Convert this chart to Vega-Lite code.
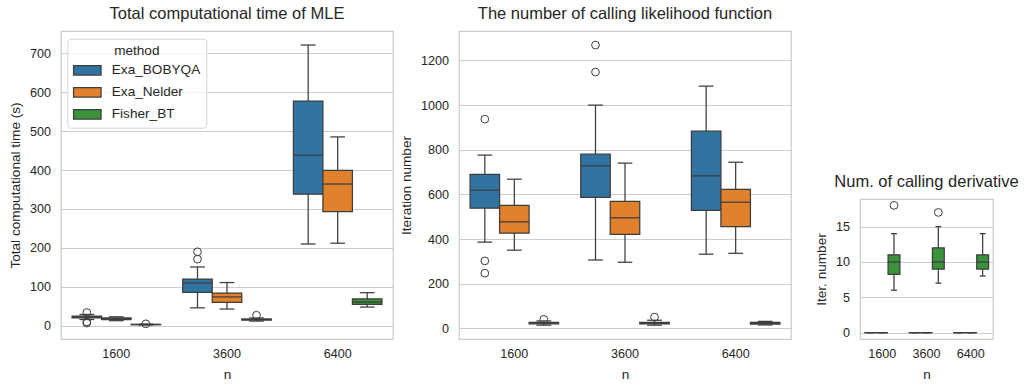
{
  "$schema": "https://vega.github.io/schema/vega-lite/v6.json",
  "background": "white",
  "padding": {"left": 7, "top": 4, "right": 5, "bottom": 5},
  "config": {
    "font": "Liberation Sans",
    "view": {"stroke": "#cccccc", "strokeWidth": 1.25},
    "axis": {"labelFont": "Liberation Sans", "titleFont": "Liberation Sans", "labelFontSize": 12.6, "titleFontSize": 13.6, "labelColor": "#262626", "titleColor": "#262626", "titleFontWeight": "normal", "domain": false, "ticks": false, "tickSize": 0, "gridColor": "#cccccc", "gridWidth": 1, "gridOpacity": 1},
    "axisX": {"grid": false, "labelAngle": 0, "labelPadding": 8, "titlePadding": 8},
    "axisY": {"grid": true, "labelPadding": 10.5, "titlePadding": 7.4, "format": "d"},
    "title": {"font": "Liberation Sans", "fontSize": 16.5, "fontWeight": "normal", "color": "#262626", "baseline": "alphabetic", "offset": 9, "frame": "group", "anchor": "middle"}
  },
  "datasets": {
    "time_box": [
      {"n": "1600", "method": "Exa_BOBYQA", "lo": 16, "q1": 20, "med": 23, "q3": 25, "hi": 29},
      {"n": "1600", "method": "Exa_Nelder", "lo": 13, "q1": 16, "med": 18, "q3": 20, "hi": 23},
      {"n": "1600", "method": "Fisher_BT", "lo": 2, "q1": 2.8, "med": 3.2, "q3": 3.6, "hi": 4.2},
      {"n": "3600", "method": "Exa_BOBYQA", "lo": 46, "q1": 86, "med": 110, "q3": 120, "hi": 151},
      {"n": "3600", "method": "Exa_Nelder", "lo": 43, "q1": 60, "med": 74, "q3": 84, "hi": 111},
      {"n": "3600", "method": "Fisher_BT", "lo": 12, "q1": 14.5, "med": 16, "q3": 17.5, "hi": 20},
      {"n": "6400", "method": "Exa_BOBYQA", "lo": 210, "q1": 338, "med": 438, "q3": 577, "hi": 721},
      {"n": "6400", "method": "Exa_Nelder", "lo": 212, "q1": 293, "med": 364, "q3": 399, "hi": 485},
      {"n": "6400", "method": "Fisher_BT", "lo": 48, "q1": 55, "med": 61, "q3": 69, "hi": 85}
    ],
    "time_out": [
      {"n": "1600", "method": "Exa_BOBYQA", "v": 34},
      {"n": "1600", "method": "Exa_BOBYQA", "v": 10},
      {"n": "1600", "method": "Exa_BOBYQA", "v": 7},
      {"n": "1600", "method": "Fisher_BT", "v": 5},
      {"n": "3600", "method": "Exa_BOBYQA", "v": 190},
      {"n": "3600", "method": "Exa_BOBYQA", "v": 171},
      {"n": "3600", "method": "Fisher_BT", "v": 27}
    ],
    "lik_box": [
      {"n": "1600", "method": "Exa_BOBYQA", "lo": 386, "q1": 538, "med": 619, "q3": 690, "hi": 776},
      {"n": "1600", "method": "Exa_Nelder", "lo": 350, "q1": 426, "med": 477, "q3": 551, "hi": 668},
      {"n": "1600", "method": "Fisher_BT", "lo": 14, "q1": 20, "med": 24, "q3": 27, "hi": 33},
      {"n": "3600", "method": "Exa_BOBYQA", "lo": 306, "q1": 587, "med": 728, "q3": 780, "hi": 1000},
      {"n": "3600", "method": "Exa_Nelder", "lo": 296, "q1": 421, "med": 495, "q3": 569, "hi": 740},
      {"n": "3600", "method": "Fisher_BT", "lo": 14, "q1": 20, "med": 23, "q3": 27, "hi": 36},
      {"n": "6400", "method": "Exa_BOBYQA", "lo": 332, "q1": 528, "med": 683, "q3": 883, "hi": 1085},
      {"n": "6400", "method": "Exa_Nelder", "lo": 336, "q1": 456, "med": 565, "q3": 622, "hi": 744},
      {"n": "6400", "method": "Fisher_BT", "lo": 15, "q1": 19, "med": 23, "q3": 27, "hi": 31}
    ],
    "lik_out": [
      {"n": "1600", "method": "Exa_BOBYQA", "v": 937},
      {"n": "1600", "method": "Exa_BOBYQA", "v": 302},
      {"n": "1600", "method": "Exa_BOBYQA", "v": 247},
      {"n": "1600", "method": "Fisher_BT", "v": 40},
      {"n": "3600", "method": "Exa_BOBYQA", "v": 1269},
      {"n": "3600", "method": "Exa_BOBYQA", "v": 1148},
      {"n": "3600", "method": "Fisher_BT", "v": 50}
    ],
    "der_box": [
      {"n": "1600", "method": "Exa_BOBYQA", "lo": 0, "q1": 0, "med": 0, "q3": 0, "hi": 0},
      {"n": "1600", "method": "Exa_Nelder", "lo": 0, "q1": 0, "med": 0, "q3": 0, "hi": 0},
      {"n": "1600", "method": "Fisher_BT", "lo": 6, "q1": 8.25, "med": 10, "q3": 11, "hi": 14},
      {"n": "3600", "method": "Exa_BOBYQA", "lo": 0, "q1": 0, "med": 0, "q3": 0, "hi": 0},
      {"n": "3600", "method": "Exa_Nelder", "lo": 0, "q1": 0, "med": 0, "q3": 0, "hi": 0},
      {"n": "3600", "method": "Fisher_BT", "lo": 7, "q1": 9, "med": 10, "q3": 12, "hi": 15},
      {"n": "6400", "method": "Exa_BOBYQA", "lo": 0, "q1": 0, "med": 0, "q3": 0, "hi": 0},
      {"n": "6400", "method": "Exa_Nelder", "lo": 0, "q1": 0, "med": 0, "q3": 0, "hi": 0},
      {"n": "6400", "method": "Fisher_BT", "lo": 8, "q1": 9, "med": 10, "q3": 11, "hi": 14}
    ],
    "der_out": [
      {"n": "1600", "method": "Fisher_BT", "v": 18},
      {"n": "3600", "method": "Fisher_BT", "v": 17}
    ]
  },
  "spacing": 21,
  "align": "none",
  "resolve": {"scale": {"x": "independent", "xOffset": "independent", "y": "independent", "fill": "independent"}, "legend": {"fill": "independent"}},
  "hconcat": [
    {
      "spacing": 4,
      "align": "none",
      "resolve": {"scale": {"x": "independent", "xOffset": "independent", "y": "independent", "fill": "independent"}, "legend": {"fill": "independent"}},
      "hconcat": [
        {
          "width": 332, "height": 308,
          "title": {"text": "Total computational time of MLE"},
          "encoding": {
            "x": {"field": "n", "type": "nominal", "title": "n", "scale": {"domain": ["1600", "3600", "6400"], "paddingInner": 0.2, "paddingOuter": 0.1}},
            "xOffset": {"field": "method", "type": "nominal", "scale": {"domain": ["Exa_BOBYQA", "Exa_Nelder", "Fisher_BT"], "paddingInner": 0, "paddingOuter": 0}}
          },
          "layer": [
            {"data": {"name": "time_box"}, "mark": {"type": "rule", "color": "#3d3d3d", "strokeWidth": 1.25},
             "encoding": {"y": {"field": "lo", "type": "quantitative", "title": "Total computational time (s)", "scale": {"domain": [-34, 757], "nice": false, "zero": false}, "axis": {"values": [0, 100, 200, 300, 400, 500, 600, 700]}}, "y2": {"field": "hi"}}},
            {"data": {"name": "time_box"}, "mark": {"type": "bar", "stroke": "#3d3d3d", "strokeWidth": 1.25, "opacity": 1},
             "encoding": {"y": {"field": "q1", "type": "quantitative", "title": "Total computational time (s)"}, "y2": {"field": "q3"},
               "fill": {"field": "method", "type": "nominal", "scale": {"domain": ["Exa_BOBYQA", "Exa_Nelder", "Fisher_BT"], "range": ["#3274a1", "#e1812c", "#3a923a"]},
                 "legend": {"title": "method", "orient": "none", "legendX": 6.3, "legendY": 7.7, "fillColor": "rgba(255,255,255,0.8)", "strokeColor": "#d5d5d5", "cornerRadius": 3, "padding": 5.5, "titleAnchor": "middle", "titleFont": "Liberation Sans", "titleFontSize": 13.6, "titleFontWeight": "normal", "titleColor": "#262626", "titlePadding": -2, "labelFont": "Liberation Sans", "labelFontSize": 13.6, "labelColor": "#262626", "labelOffset": 10, "rowPadding": -7.8, "symbolType": "M-1,-0.345H1V0.345H-1Z", "symbolSize": 756, "symbolStrokeColor": "#3d3d3d", "symbolStrokeWidth": 1.25, "symbolOpacity": 1}}}},
            {"data": {"name": "time_box"}, "mark": {"type": "tick", "color": "#3d3d3d", "opacity": 1, "thickness": 1.25, "size": 29.5},
             "encoding": {"y": {"field": "med", "type": "quantitative", "title": "Total computational time (s)"}}},
            {"data": {"name": "time_box"}, "mark": {"type": "tick", "color": "#3d3d3d", "opacity": 1, "thickness": 1.25, "size": 14.75},
             "encoding": {"y": {"field": "lo", "type": "quantitative", "title": "Total computational time (s)"}}},
            {"data": {"name": "time_box"}, "mark": {"type": "tick", "color": "#3d3d3d", "opacity": 1, "thickness": 1.25, "size": 14.75},
             "encoding": {"y": {"field": "hi", "type": "quantitative", "title": "Total computational time (s)"}}},
            {"data": {"name": "time_out"}, "mark": {"type": "point", "filled": false, "color": "#3d3d3d", "size": 60, "strokeWidth": 1, "opacity": 1},
             "encoding": {"y": {"field": "v", "type": "quantitative", "title": "Total computational time (s)"}}}
          ]
        },
        {
          "width": 332, "height": 308,
          "title": {"text": "The number of calling likelihood function"},
          "encoding": {
            "x": {"field": "n", "type": "nominal", "title": "n", "scale": {"domain": ["1600", "3600", "6400"], "paddingInner": 0.2, "paddingOuter": 0.1}},
            "xOffset": {"field": "method", "type": "nominal", "scale": {"domain": ["Exa_BOBYQA", "Exa_Nelder", "Fisher_BT"], "paddingInner": 0, "paddingOuter": 0}}
          },
          "layer": [
            {"data": {"name": "lik_box"}, "mark": {"type": "rule", "color": "#3d3d3d", "strokeWidth": 1.25},
             "encoding": {"y": {"field": "lo", "type": "quantitative", "title": "Iteration number", "scale": {"domain": [-48, 1332], "nice": false, "zero": false}, "axis": {"values": [0, 200, 400, 600, 800, 1000, 1200]}}, "y2": {"field": "hi"}}},
            {"data": {"name": "lik_box"}, "mark": {"type": "bar", "stroke": "#3d3d3d", "strokeWidth": 1.25, "opacity": 1},
             "encoding": {"y": {"field": "q1", "type": "quantitative", "title": "Iteration number"}, "y2": {"field": "q3"},
               "fill": {"field": "method", "type": "nominal", "scale": {"domain": ["Exa_BOBYQA", "Exa_Nelder", "Fisher_BT"], "range": ["#3274a1", "#e1812c", "#3a923a"]}, "legend": null}}},
            {"data": {"name": "lik_box"}, "mark": {"type": "tick", "color": "#3d3d3d", "opacity": 1, "thickness": 1.25, "size": 29.5},
             "encoding": {"y": {"field": "med", "type": "quantitative", "title": "Iteration number"}}},
            {"data": {"name": "lik_box"}, "mark": {"type": "tick", "color": "#3d3d3d", "opacity": 1, "thickness": 1.25, "size": 14.75},
             "encoding": {"y": {"field": "lo", "type": "quantitative", "title": "Iteration number"}}},
            {"data": {"name": "lik_box"}, "mark": {"type": "tick", "color": "#3d3d3d", "opacity": 1, "thickness": 1.25, "size": 14.75},
             "encoding": {"y": {"field": "hi", "type": "quantitative", "title": "Iteration number"}}},
            {"data": {"name": "lik_out"}, "mark": {"type": "point", "filled": false, "color": "#3d3d3d", "size": 60, "strokeWidth": 1, "opacity": 1},
             "encoding": {"y": {"field": "v", "type": "quantitative", "title": "Iteration number"}}}
          ]
        }
      ]
    },
    {
      "spacing": 0,
      "align": "none",
      "resolve": {"scale": {"x": "independent", "xOffset": "independent", "y": "independent", "fill": "independent"}, "legend": {"fill": "independent"}},
      "vconcat": [
        {"width": 133, "height": 141, "view": {"stroke": null}, "data": {"values": []}, "mark": {"type": "point", "opacity": 0}},
        {
          "width": 133, "height": 140,
          "title": {"text": "Num. of calling derivative"},
          "encoding": {
            "x": {"field": "n", "type": "nominal", "title": "n", "scale": {"domain": ["1600", "3600", "6400"], "paddingInner": 0.2, "paddingOuter": 0.1}},
            "xOffset": {"field": "method", "type": "nominal", "scale": {"domain": ["Exa_BOBYQA", "Exa_Nelder", "Fisher_BT"], "paddingInner": 0, "paddingOuter": 0}}
          },
          "layer": [
            {"data": {"name": "der_box"}, "mark": {"type": "rule", "color": "#3d3d3d", "strokeWidth": 1.25},
             "encoding": {"y": {"field": "lo", "type": "quantitative", "title": "Iter. number", "scale": {"domain": [-0.9, 18.9], "nice": false, "zero": false}, "axis": {"values": [0, 5, 10, 15]}}, "y2": {"field": "hi"}}},
            {"data": {"name": "der_box"}, "mark": {"type": "bar", "stroke": "#3d3d3d", "strokeWidth": 1.25, "opacity": 1},
             "encoding": {"y": {"field": "q1", "type": "quantitative", "title": "Iter. number"}, "y2": {"field": "q3"},
               "fill": {"field": "method", "type": "nominal", "scale": {"domain": ["Exa_BOBYQA", "Exa_Nelder", "Fisher_BT"], "range": ["#3274a1", "#e1812c", "#3a923a"]}, "legend": null}}},
            {"data": {"name": "der_box"}, "mark": {"type": "tick", "color": "#3d3d3d", "opacity": 1, "thickness": 1.25, "size": 11.8},
             "encoding": {"y": {"field": "med", "type": "quantitative", "title": "Iter. number"}}},
            {"data": {"name": "der_box"}, "mark": {"type": "tick", "color": "#3d3d3d", "opacity": 1, "thickness": 1.25, "size": 5.9},
             "encoding": {"y": {"field": "lo", "type": "quantitative", "title": "Iter. number"}}},
            {"data": {"name": "der_box"}, "mark": {"type": "tick", "color": "#3d3d3d", "opacity": 1, "thickness": 1.25, "size": 5.9},
             "encoding": {"y": {"field": "hi", "type": "quantitative", "title": "Iter. number"}}},
            {"data": {"name": "der_out"}, "mark": {"type": "point", "filled": false, "color": "#3d3d3d", "size": 60, "strokeWidth": 1, "opacity": 1},
             "encoding": {"y": {"field": "v", "type": "quantitative", "title": "Iter. number"}}}
          ]
        }
      ]
    }
  ]
}
